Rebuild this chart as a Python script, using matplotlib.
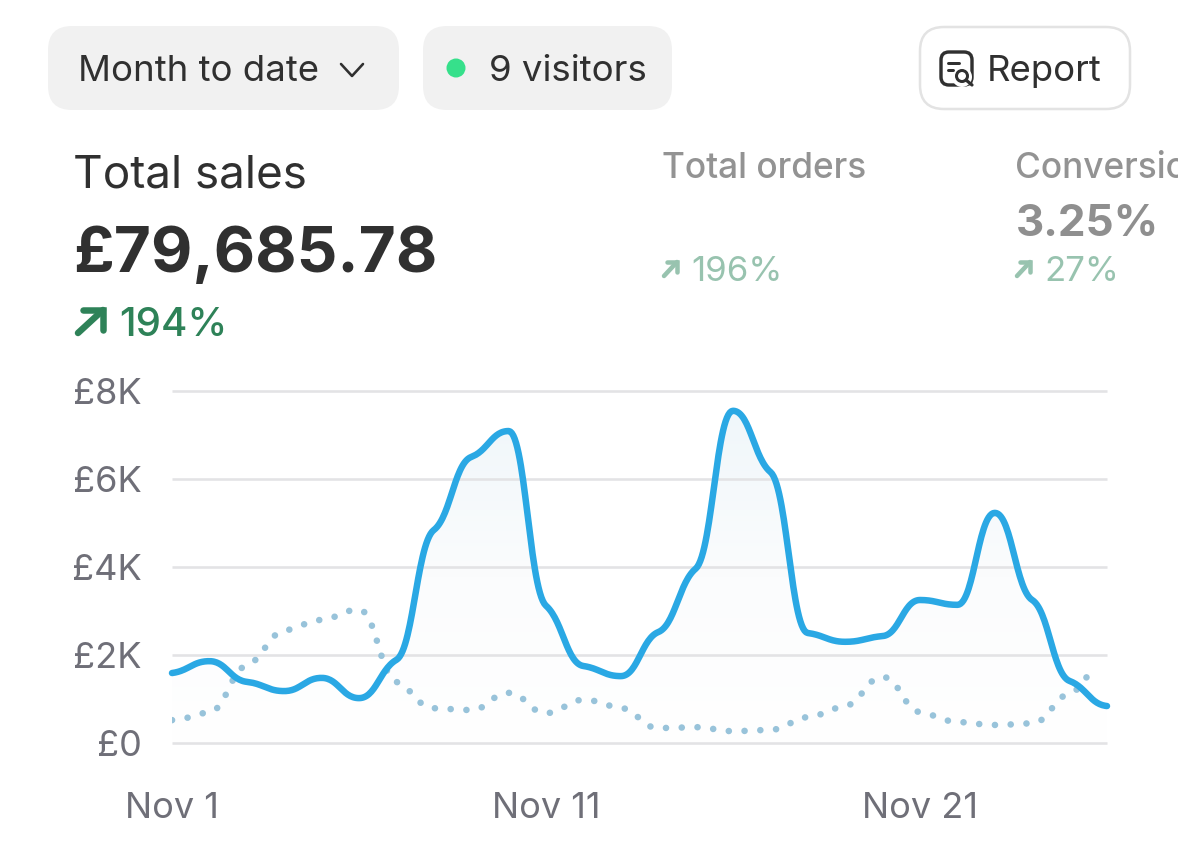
import numpy as np
import matplotlib
matplotlib.use("Agg")
import matplotlib.pyplot as plt
from matplotlib.patches import FancyBboxPatch, Circle, PathPatch
from matplotlib.path import Path
from matplotlib.colors import LinearSegmentedColormap

# daily values
days = list(range(26))
sales = [1590, 1860, 1390, 1180, 1480, 1020, 1890, 4840, 6500, 7090, 3120, 1750, 1520,
         2520, 3960, 7550, 6160, 2500, 2300, 2430, 3250, 3140, 5230, 3250, 1410, 840]
previous = [520, 700, 1770, 2550, 2800, 3030, 1390, 790, 750, 1140, 680, 980, 800,
            340, 360, 270, 300, 590, 840, 1500, 700, 480, 410, 450, 1130, 2000]
previous_last_day = 24.66
y_ticks = [0, 2000, 4000, 6000, 8000]
y_labels = ["£0", "£2K", "£4K", "£6K", "£8K"]
x_ticks = [0, 10, 20]
x_labels = ["Nov 1", "Nov 11", "Nov 21"]

DARK = "#303030"
GREY = "#6f6f78"
BLUE = "#2aa8e4"
DOTS = "#98c3da"
GRID = "#e3e3e5"
plt.rcParams["font.family"] = ["Inter", "DejaVu Sans"]


def smooth(x, y, k=0.28, n=30):
    # monotone tangents with long flat handles, gives the shoulders at each day
    x = np.array(x, float)
    y = np.array(y, float)
    h = np.diff(x)
    s = np.diff(y) / h
    t = np.zeros(len(x))
    for i in range(1, len(x) - 1):
        p = (s[i - 1] * h[i] + s[i] * h[i - 1]) / (h[i - 1] + h[i])
        t[i] = (np.sign(s[i - 1]) + np.sign(s[i])) * min(abs(s[i - 1]), abs(s[i]), 0.5 * abs(p))
    t[0] = (3 * s[0] - t[1]) / 2
    t[-1] = (3 * s[-1] - t[-2]) / 2
    xs, ys = [], []
    for i in range(len(x) - 1):
        u = np.linspace(0, 1, n, endpoint=False)[:, None]
        p0 = [x[i], y[i]]
        p1 = [x[i] + 0.45 * h[i], y[i] + 0.45 * h[i] * k * t[i]]
        p2 = [x[i + 1] - 0.45 * h[i], y[i + 1] - 0.45 * h[i] * k * t[i + 1]]
        p3 = [x[i + 1], y[i + 1]]
        b = (1 - u)**3 * np.array(p0) + 3 * (1 - u)**2 * u * np.array(p1) \
            + 3 * (1 - u) * u**2 * np.array(p2) + u**3 * np.array(p3)
        xs.append(b[:, 0])
        ys.append(b[:, 1])
    xs.append(x[-1:])
    ys.append(y[-1:])
    return np.concatenate(xs), np.concatenate(ys)


fig = plt.figure(figsize=(11.78, 8.56), dpi=100, facecolor="white")
px = 0.72  # points per pixel at this dpi

# chart
ax = fig.add_axes([172 / 1178, 113 / 856, 935 / 1178, 352 / 856])
ax.patch.set_alpha(0)
for sp in ax.spines.values():
    sp.set_visible(False)
ax.set_xlim(0, 25)
ax.set_ylim(0, 8000)
ax.set_yticks(y_ticks, y_labels)
ax.set_xticks(x_ticks, x_labels)
ax.tick_params(length=0, colors=GREY, labelsize=26)
ax.tick_params(axis="y", pad=22)
ax.tick_params(axis="x", pad=35)
for v in y_ticks:
    ax.plot([0, 25], [v, v], color=GRID, lw=2.6 * px, zorder=1, clip_on=False, solid_capstyle="butt")

sx, sy = smooth(days, sales)
grad = LinearSegmentedColormap.from_list("g", ["#ffffff", "#fbfcfd", "#f0f7fa"])
im = ax.imshow(np.linspace(1, 0, 256).reshape(-1, 1), extent=[0, 25, 0, 7550], cmap=grad,
               aspect="auto", zorder=0.5)
area = Path(np.vstack([[0, 0], np.column_stack([sx, sy]), [25, 0], [0, 0]]))
im.set_clip_path(PathPatch(area, transform=ax.transData))
ax.set_xlim(0, 25)
ax.set_ylim(0, 8000)

px_x, px_y = smooth(days, previous)
keep = px_x <= previous_last_day
ax.plot(px_x[keep], px_y[keep], color=DOTS, lw=6.6 * px, dashes=(0.01, 2.38), dash_capstyle="round", zorder=2)
ax.plot(sx, sy, color=BLUE, lw=6.5 * px, zorder=3, clip_on=False, solid_capstyle="round")

# page furniture, in pixel coords
ui = fig.add_axes([0, 0, 1, 1])
ui.set_xlim(0, 1178)
ui.set_ylim(856, 0)
ui.axis("off")
ui.patch.set_alpha(0)


def pill(x0, x1, y0, y1, r, fc, ec="none", lw=0):
    ui.add_patch(FancyBboxPatch((x0 + r, y0 + r), x1 - x0 - 2 * r, y1 - y0 - 2 * r,
                                boxstyle=f"round,pad={r},rounding_size={r}",
                                fc=fc, ec=ec, lw=lw * px, mutation_aspect=1))


def txt(x, y, s, size, color, weight="normal", **kw):
    return ui.text(x, y, s, fontsize=size, color=color, fontweight=weight, va="baseline", **kw)


def arrow(x0, y0, x1, y1, head, color, lw):
    ui.plot([x0, x1], [y0, y1], color=color, lw=lw * px, solid_capstyle="round")
    ui.plot([x1 - head, x1, x1], [y1, y1, y1 + head], color=color, lw=lw * px,
            solid_capstyle="round", solid_joinstyle="miter")


pill(48, 399, 26, 110, 24, "#f1f1f1")
pill(423, 672, 26, 110, 24, "#f1f1f1")
pill(920, 1130, 27, 109, 24, "white", "#e3e3e3", 2.5)

txt(78, 81, "Month to date", 26.3, DARK)
ui.plot([341, 352, 363], [64, 76, 64], color=DARK, lw=2.6 * px, solid_capstyle="round")
ui.add_patch(Circle((456, 68), 9.5, fc="#36e08b", ec="none"))
txt(489, 81, "9 visitors", 26.4, DARK)

# report icon
ui.add_patch(FancyBboxPatch((946, 57), 21, 23, boxstyle="round,pad=5,rounding_size=8",
                            fc="white", ec=DARK, lw=3.4 * px))
ui.add_patch(Circle((962, 77), 10, fc="white", ec="none"))
ui.add_patch(Circle((962, 76), 5.5, fc="white", ec=DARK, lw=3 * px))
ui.plot([966, 972], [80, 85], color=DARK, lw=3.2 * px, solid_capstyle="round")
ui.plot([948, 959], [63, 63], color=DARK, lw=3 * px, solid_capstyle="round")
ui.plot([948, 953], [70, 70], color=DARK, lw=3 * px, solid_capstyle="round")
txt(987, 81, "Report", 26.3, DARK)

txt(73, 187, "Total sales", 33, DARK)
txt(73, 272, "£79,685.78", 46, DARK, "bold")
arrow(78, 333, 103, 310, 20, "#2e8258", 6.5)
txt(119, 336, "194%", 29, "#2e8258", "medium")

txt(662, 178, "Total orders", 25.4, "#939393", "medium")
arrow(664, 276, 677, 262, 10, "#98c3af", 4.5)
txt(691, 281, "196%", 25, "#98c3af")

txt(1015, 178, "Conversion rate", 25.4, "#939393", "medium")
txt(1016, 236, "3.25%", 31.6, "#8f8f8f", "bold")
arrow(1017, 276, 1030, 262, 10, "#98c3af", 4.5)
txt(1044, 281, "27%", 25, "#98c3af")

fig.savefig("out.png", dpi=100)
